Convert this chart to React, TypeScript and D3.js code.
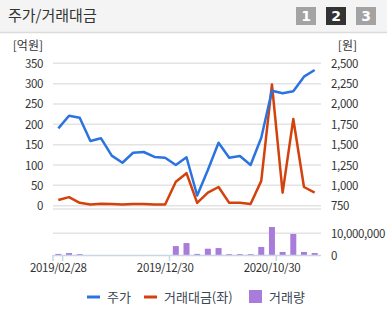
import React from "react";
import * as d3 from "d3";

const months = [
  "2019/02", "2019/03", "2019/04", "2019/05", "2019/06", "2019/07", "2019/08",
  "2019/09", "2019/10", "2019/11", "2019/12", "2020/01", "2020/02", "2020/03",
  "2020/04", "2020/05", "2020/06", "2020/07", "2020/08", "2020/09", "2020/10",
  "2020/11", "2020/12", "2021/01", "2021/02",
];
const price = [
  1700, 1855, 1832, 1545, 1578, 1365, 1278, 1401, 1410, 1349, 1340, 1250, 1345,
  875, 1189, 1524, 1340, 1361, 1250, 1586, 2163, 2131, 2156, 2336, 2418,
];
const tradeValue = [
  14, 21, 7, 3, 5, 4, 3, 4, 4, 3, 3, 59, 80, 7, 32, 46, 7, 7, 4, 61, 298, 32,
  213, 46, 32,
];
const volume = [
  500000, 900000, 400000, 0, 0, 0, 0, 0, 0, 0, 0, 4100000, 5500000, 500000,
  2900000, 3200000, 400000, 400000, 400000, 3700000, 12900000, 1400000,
  9700000, 1400000, 900000,
];
const leftTicks = [0, 50, 100, 150, 200, 250, 300, 350];
const rightTicks = [750, 1000, 1250, 1500, 1750, 2000, 2250, 2500];
const volTicks = [0, 10000000];
const xTickLabels = ["2019/02/28", "2019/12/30", "2020/10/30"];
const xTickIndex = [0, 10, 20];

const FONT = "'Noto Sans CJK KR', 'Noto Sans', sans-serif";

export default function App() {
  const W = 387, H = 324;
  const x0 = 53, x1 = 320;
  const x = d3.scaleBand<string>().domain(months).range([x0, x1]).padding(0);
  const cx = (i: number) => (x(months[i]) as number) + x.bandwidth() / 2;
  const yL = d3.scaleLinear().domain([0, 350]).range([205.7, 63.3]);
  const yR = d3.scaleLinear().domain([750, 2500]).range([205.7, 63.3]);
  const yV = d3.scaleLinear().domain([0, 10000000]).range([255, 233.3]);

  const priceLine = d3
    .line<number>()
    .x((_, i) => cx(i))
    .y((d) => yR(d));
  const tvLine = d3
    .line<number>()
    .x((_, i) => cx(i))
    .y((d) => yL(d));

  const fmt = d3.format(",");
  const grid = "#e3e3e3";
  const textCol = "#333";
  const blue = "#2b74e0";
  const red = "#d3410c";
  const purple = "#a97bdb";
  const bw = 6;
  const numProps = { fontSize: 11.5, fill: textCol, letterSpacing: -0.35 };

  return (
    <svg
      width={W}
      height={H}
      style={{ position: "fixed", left: 0, top: 0, background: "#fff" }}
      fontFamily={FONT}
    >
      {/* header */}
      <rect x={0} y={0} width={W} height={32} fill="#f4f4f4" />
      <line x1={0} x2={W} y1={32.5} y2={32.5} stroke="#dcdcdc" strokeWidth={1.5} />
      <text x={8} y={21} fontSize={15} fill="#333">주가/거래대금</text>
      {["1", "2", "3"].map((t, i) => (
        <g key={t}>
          <rect x={296 + i * 30} y={7} width={20} height={18} fill={i === 1 ? "#333" : "#a3a3a3"} />
          <text x={306 + i * 30} y={21} fontSize={14} fontWeight="bold" fill="#fff" textAnchor="middle" fontFamily="'DejaVu Sans', sans-serif">{t}</text>
        </g>
      ))}

      {/* grid upper */}
      {leftTicks.map((t) => (
        <line key={"g" + t} x1={x0} x2={x1 + 1} y1={yL(t)} y2={yL(t)} stroke={grid} strokeWidth={1.5} />
      ))}
      <line x1={x0} x2={x1 + 1} y1={209} y2={209} stroke={grid} strokeWidth={1.5} />
      {/* lower grid */}
      <line x1={x0} x2={x1 + 1} y1={yV(10000000)} y2={yV(10000000)} stroke={grid} strokeWidth={1.5} />

      {/* axis labels */}
      <text x={43} y={50} fontSize={12} fill={textCol} textAnchor="end">[억원]</text>
      <text x={357} y={50} fontSize={12} fill={textCol} textAnchor="end">[원]</text>
      {leftTicks.map((t) => (
        <text key={"l" + t} x={43} y={yL(t) + 4.5} {...numProps} textAnchor="end">{t}</text>
      ))}
      {rightTicks.map((t) => (
        <text key={"r" + t} x={331} y={yR(t) + 4.5} {...numProps}>{fmt(t)}</text>
      ))}
      {volTicks.map((t) => (
        <text key={"v" + t} x={331} y={yV(t) + 4.5} {...numProps}>{fmt(t)}</text>
      ))}

      {/* volume bars */}
      {volume.map((v, i) => (
        <rect key={"b" + i} x={cx(i) - bw / 2} y={yV(v)} width={bw} height={yV(0) - yV(v)} fill={purple} />
      ))}
      {/* lower axis */}
      <line x1={x0} x2={x1 + 1} y1={255.5} y2={255.5} stroke="#c9d6e3" strokeWidth={1.5} />
      <line x1={x0} x2={x0} y1={255} y2={261} stroke="#c9d6e3" strokeWidth={1.5} />
      {xTickIndex.map((idx, k) => (
        <g key={"xt" + k}>
          <line
            x1={(x(months[idx]) as number) + x.bandwidth() - 1}
            x2={(x(months[idx]) as number) + x.bandwidth() - 1}
            y1={255}
            y2={261}
            stroke="#c9d6e3"
            strokeWidth={1.5}
          />
          <text x={cx(idx)} y={272} {...numProps} textAnchor="middle">{xTickLabels[k]}</text>
        </g>
      ))}

      {/* lines */}
      <path d={tvLine(tradeValue) as string} fill="none" stroke={red} strokeWidth={2.5} strokeLinejoin="round" />
      <path d={priceLine(price) as string} fill="none" stroke={blue} strokeWidth={2.5} strokeLinejoin="round" />

      {/* legend */}
      <line x1={87} x2={100} y1={297} y2={297} stroke={blue} strokeWidth={3} />
      <text x={107} y={302} fontSize={13} fill="#3a4654">주가</text>
      <line x1={144} x2={157} y1={297} y2={297} stroke={red} strokeWidth={3} />
      <text x={164} y={302} fontSize={13} fill="#3a4654">거래대금(좌)</text>
      <rect x={249} y={290} width={13} height={13} fill={purple} />
      <text x={269} y={302} fontSize={13} fill="#3a4654">거래량</text>
    </svg>
  );
}
